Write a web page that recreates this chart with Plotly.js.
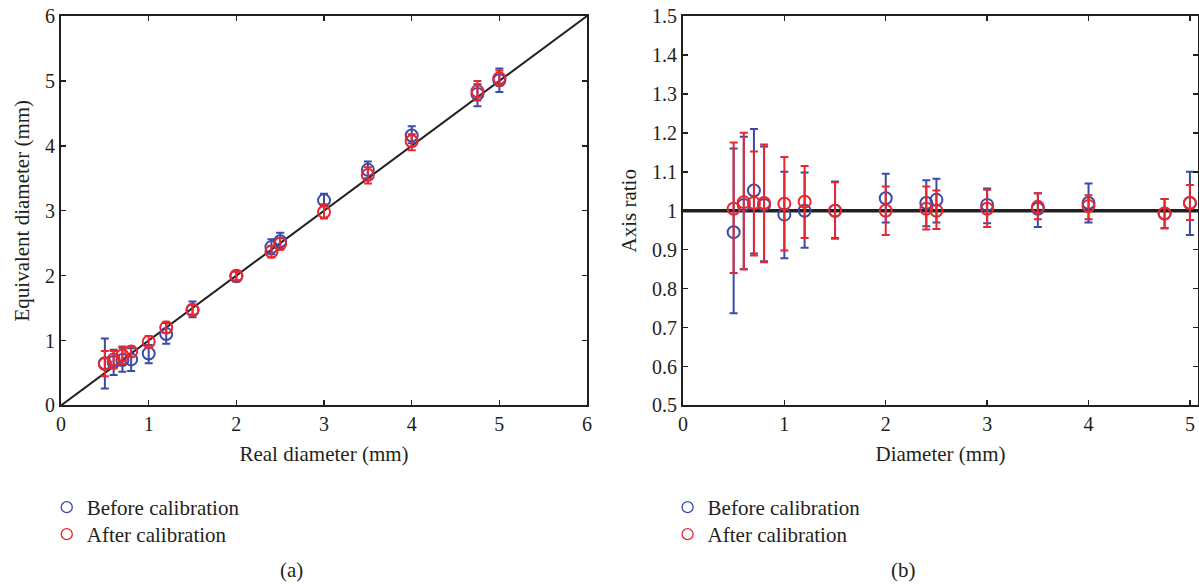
<!DOCTYPE html>
<html>
<head>
<meta charset="utf-8">
<script src="https://cdn.plot.ly/plotly-3.0.1.min.js"></script>
<style>html,body{margin:0;padding:0;background:#fff;}#chart{width:1199px;height:584px;}</style>
</head>
<body>
<div id="chart"></div>
<script>
// Shared diameters (mm)
const diameters = [0.5, 0.6, 0.7, 0.8, 1.0, 1.2, 1.5, 2.0, 2.4, 2.5, 3.0, 3.5, 4.0, 4.75, 5.0];

// (a) Equivalent diameter (mm)
const eqBefore      = [0.65, 0.67, 0.70, 0.71, 0.80, 1.10, 1.47, 1.99, 2.44, 2.53, 3.16, 3.63, 4.16, 4.80, 5.01];
const eqBeforeHigh  = [1.03, 0.86, 0.89, 0.88, 0.93, 1.27, 1.60, 2.07, 2.56, 2.66, 3.26, 3.76, 4.30, 4.95, 5.19];
const eqBeforeLow   = [0.26, 0.47, 0.52, 0.53, 0.65, 0.95, 1.36, 1.91, 2.33, 2.42, 3.07, 3.50, 4.04, 4.61, 4.83];
const eqAfter       = [0.64, 0.71, 0.77, 0.83, 0.98, 1.20, 1.47, 2.00, 2.37, 2.49, 2.98, 3.55, 4.07, 4.84, 5.04];
const eqAfterHigh   = [0.84, 0.84, 0.91, 0.91, 1.07, 1.29, 1.55, 2.06, 2.46, 2.58, 3.10, 3.67, 4.18, 5.00, 5.16];
const eqAfterLow    = [0.45, 0.57, 0.64, 0.75, 0.89, 1.12, 1.40, 1.93, 2.28, 2.40, 2.88, 3.42, 3.93, 4.70, 4.93];

// (b) Axis ratio
const arBefore      = [0.945, 1.015, 1.052, 1.015, 0.990, 1.000, 1.000, 1.032, 1.020, 1.028, 1.015, 1.005, 1.020, 0.993, 1.020];
const arBeforeHigh  = [1.160, 1.190, 1.210, 1.165, 1.100, 1.098, 1.075, 1.095, 1.078, 1.082, 1.057, 1.045, 1.070, 1.030, 1.100];
const arBeforeLow   = [0.737, 0.850, 0.890, 0.870, 0.878, 0.905, 0.930, 0.970, 0.960, 0.970, 0.968, 0.958, 0.970, 0.955, 0.938];
const arAfter       = [1.005, 1.022, 1.020, 1.020, 1.018, 1.023, 1.000, 1.000, 1.005, 1.000, 1.005, 1.010, 1.012, 0.993, 1.020];
const arAfterHigh   = [1.175, 1.200, 1.152, 1.170, 1.138, 1.115, 1.073, 1.062, 1.062, 1.052, 1.054, 1.045, 1.040, 1.030, 1.066];
const arAfterLow    = [0.840, 0.850, 0.885, 0.868, 0.898, 0.930, 0.928, 0.938, 0.952, 0.953, 0.958, 0.978, 0.978, 0.955, 0.976];

const refDiag = [0, 6];
const refRatioX = [0, 5.08];
const refRatioY = [1, 1];

const seriesNames = ['Before calibration', 'After calibration'];
const xTicksA = [0, 1, 2, 3, 4, 5, 6];
const yTicksA = [0, 1, 2, 3, 4, 5, 6];
const xTicksB = [0, 1, 2, 3, 4, 5];
const yTicksB = [0.5, 0.6, 0.7, 0.8, 0.9, 1, 1.1, 1.2, 1.3, 1.4, 1.5];
const yTickTextB = ['0.5','0.6','0.7','0.8','0.9','1','1.1','1.2','1.3','1.4','1.5'];

const BLUE = '#3a4ba6';
const RED = '#e8262d';
const INK = '#231f20';
const FONT = 'Liberation Serif, Times New Roman, serif';
const TXT = 21;
const TICK = 20;

const diff = (a, b) => a.map((v, i) => v - b[i]);

function errTrace(x, y, hi, lo, color, xa, ya) {
  return {
    x: x, y: y, xaxis: xa, yaxis: ya, type: 'scatter', mode: 'markers',
    showlegend: false, cliponaxis: false, hoverinfo: 'x+y',
    marker: {symbol: 'circle-open', size: 12, color: color, line: {width: 2, color: color}},
    error_y: {type: 'data', symmetric: false, array: diff(hi, y), arrayminus: diff(y, lo),
              color: color, thickness: 2, width: 4}
  };
}
function legendTrace(name, color, legend) {
  return {
    x: [null], y: [null], type: 'scatter', mode: 'markers', name: name, legend: legend,
    xaxis: 'x', yaxis: 'y',
    marker: {symbol: 'circle-open', size: 11, color: color, line: {width: 1.3, color: color}}
  };
}

const data = [
  {x: refDiag, y: refDiag, xaxis: 'x', yaxis: 'y', mode: 'lines', type: 'scatter', showlegend: false,
   line: {color: INK, width: 2}, hoverinfo: 'skip'},
  errTrace(diameters, eqBefore, eqBeforeHigh, eqBeforeLow, BLUE, 'x', 'y'),
  errTrace(diameters, eqAfter, eqAfterHigh, eqAfterLow, RED, 'x', 'y'),
  {x: refRatioX, y: refRatioY, xaxis: 'x2', yaxis: 'y2', mode: 'lines', type: 'scatter', showlegend: false,
   line: {color: INK, width: 3.5}, hoverinfo: 'skip'},
  errTrace(diameters, arBefore, arBeforeHigh, arBeforeLow, BLUE, 'x2', 'y2'),
  errTrace(diameters, arAfter, arAfterHigh, arAfterLow, RED, 'x2', 'y2'),
  legendTrace(seriesNames[0], BLUE, 'legend'),
  legendTrace(seriesNames[1], RED, 'legend2'),
  legendTrace(seriesNames[0], BLUE, 'legend3'),
  legendTrace(seriesNames[1], RED, 'legend4')
];

const axisCommon = {
  showgrid: false, zeroline: false, showline: true, linecolor: INK, linewidth: 2,
  mirror: 'ticks', ticks: 'inside', ticklen: 5, tickwidth: 1.5, tickcolor: INK,
  tickfont: {family: FONT, size: TICK, color: INK}, fixedrange: true
};
const yDom = [0.3057, 0.9726];
const legendCommon = {
  font: {family: FONT, size: TXT, color: INK}, bgcolor: 'rgba(0,0,0,0)',
  xanchor: 'left', yanchor: 'top', tracegroupgap: 0, itemwidth: 30
};
const legRow1 = (584 - 487) / 584;
const legRow2 = (584 - 514) / 584;
const legColA = 0.039;
const legColB = 0.5568;

const layout = {
  width: 1199, height: 584,
  margin: {l: 0, r: 0, t: 0, b: 0},
  paper_bgcolor: '#fff', plot_bgcolor: '#fff',
  font: {family: FONT, color: INK},
  xaxis: Object.assign({}, axisCommon, {domain: [0.0509, 0.4896], range: [0, 6], tickvals: xTicksA,
    title: {text: 'Real diameter (mm)', font: {family: FONT, size: TXT, color: INK}, standoff: 12}, anchor: 'y'}),
  yaxis: Object.assign({}, axisCommon, {domain: yDom, range: [0, 6], tickvals: yTicksA,
    title: {text: 'Equivalent diameter (mm)', font: {family: FONT, size: TXT, color: INK}, standoff: 10}, anchor: 'x'}),
  xaxis2: Object.assign({}, axisCommon, {domain: [0.5696, 0.9992], range: [0, 5.08], tickvals: xTicksB,
    title: {text: 'Diameter (mm)', font: {family: FONT, size: TXT, color: INK}, standoff: 12}, anchor: 'y2'}),
  yaxis2: Object.assign({}, axisCommon, {domain: yDom, range: [0.5, 1.5], tickvals: yTicksB, ticktext: yTickTextB,
    title: {text: 'Axis ratio', font: {family: FONT, size: TXT, color: INK}, standoff: 10}, anchor: 'x2'}),
  legend: Object.assign({}, legendCommon, {x: legColA, y: legRow1}),
  legend2: Object.assign({}, legendCommon, {x: legColA, y: legRow2}),
  legend3: Object.assign({}, legendCommon, {x: legColB, y: legRow1}),
  legend4: Object.assign({}, legendCommon, {x: legColB, y: legRow2}),
  annotations: [
    {text: '(a)', xref: 'paper', yref: 'paper', x: 291 / 1199, y: (584 - 570) / 584, showarrow: false,
     xanchor: 'center', yanchor: 'middle', font: {family: FONT, size: TXT, color: INK}},
    {text: '(b)', xref: 'paper', yref: 'paper', x: 903 / 1199, y: (584 - 570) / 584, showarrow: false,
     xanchor: 'center', yanchor: 'middle', font: {family: FONT, size: TXT, color: INK}}
  ]
};

Plotly.newPlot('chart', data, layout, {displayModeBar: false, staticPlot: true});
</script>
</body>
</html>
